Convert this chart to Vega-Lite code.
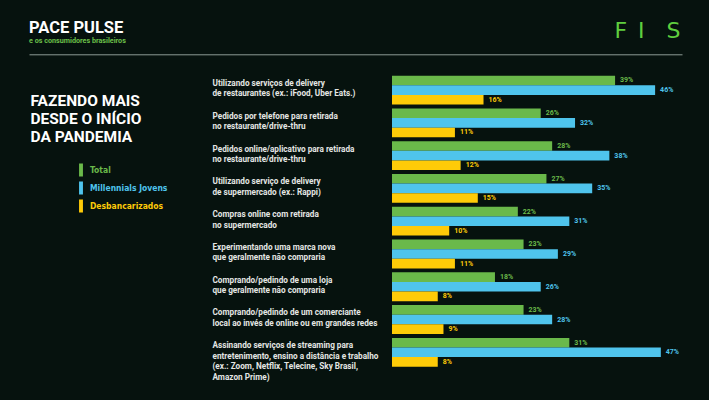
{
  "$schema": "https://vega.github.io/schema/vega-lite/v6.json",
  "autosize": "none",
  "width": 653,
  "height": 295,
  "padding": {"left": 29, "top": 73.7, "right": 27, "bottom": 31.3},
  "background": "#06120e",
  "config": {
    "view": {"stroke": null},
    "font": "Roboto, Liberation Sans, sans-serif"
  },
  "title": {
    "text": "PACE PULSE",
    "subtitle": "e os consumidores brasileiros",
    "anchor": "start",
    "frame": "group",
    "offset": 0,
    "dy": 24,
    "fontSize": 16.5,
    "fontWeight": "bold",
    "color": "#ffffff",
    "subtitleFontSize": 7.2,
    "subtitleFontWeight": "bold",
    "subtitleColor": "#6cc04a",
    "subtitlePadding": 0.5
  },
  "datasets": {
    "pesquisa": [
      {"categoria": "Utilizando serviços de delivery\nde restaurantes (ex.: iFood, Uber Eats.)", "serie": "Total", "valor": 39},
      {"categoria": "Utilizando serviços de delivery\nde restaurantes (ex.: iFood, Uber Eats.)", "serie": "Millennials Jovens", "valor": 46},
      {"categoria": "Utilizando serviços de delivery\nde restaurantes (ex.: iFood, Uber Eats.)", "serie": "Desbancarizados", "valor": 16},
      {"categoria": "Pedidos por telefone para retirada\nno restaurante/drive-thru", "serie": "Total", "valor": 26},
      {"categoria": "Pedidos por telefone para retirada\nno restaurante/drive-thru", "serie": "Millennials Jovens", "valor": 32},
      {"categoria": "Pedidos por telefone para retirada\nno restaurante/drive-thru", "serie": "Desbancarizados", "valor": 11},
      {"categoria": "Pedidos online/aplicativo para retirada\nno restaurante/drive-thru", "serie": "Total", "valor": 28},
      {"categoria": "Pedidos online/aplicativo para retirada\nno restaurante/drive-thru", "serie": "Millennials Jovens", "valor": 38},
      {"categoria": "Pedidos online/aplicativo para retirada\nno restaurante/drive-thru", "serie": "Desbancarizados", "valor": 12},
      {"categoria": "Utilizando serviço de delivery\nde supermercado (ex.: Rappi)", "serie": "Total", "valor": 27},
      {"categoria": "Utilizando serviço de delivery\nde supermercado (ex.: Rappi)", "serie": "Millennials Jovens", "valor": 35},
      {"categoria": "Utilizando serviço de delivery\nde supermercado (ex.: Rappi)", "serie": "Desbancarizados", "valor": 15},
      {"categoria": "Compras online com retirada\nno supermercado", "serie": "Total", "valor": 22},
      {"categoria": "Compras online com retirada\nno supermercado", "serie": "Millennials Jovens", "valor": 31},
      {"categoria": "Compras online com retirada\nno supermercado", "serie": "Desbancarizados", "valor": 10},
      {"categoria": "Experimentando uma marca nova\nque geralmente não compraria", "serie": "Total", "valor": 23},
      {"categoria": "Experimentando uma marca nova\nque geralmente não compraria", "serie": "Millennials Jovens", "valor": 29},
      {"categoria": "Experimentando uma marca nova\nque geralmente não compraria", "serie": "Desbancarizados", "valor": 11},
      {"categoria": "Comprando/pedindo de uma loja\nque geralmente não compraria", "serie": "Total", "valor": 18},
      {"categoria": "Comprando/pedindo de uma loja\nque geralmente não compraria", "serie": "Millennials Jovens", "valor": 26},
      {"categoria": "Comprando/pedindo de uma loja\nque geralmente não compraria", "serie": "Desbancarizados", "valor": 8},
      {"categoria": "Comprando/pedindo de um comerciante\nlocal ao invés de online ou em grandes redes", "serie": "Total", "valor": 23},
      {"categoria": "Comprando/pedindo de um comerciante\nlocal ao invés de online ou em grandes redes", "serie": "Millennials Jovens", "valor": 28},
      {"categoria": "Comprando/pedindo de um comerciante\nlocal ao invés de online ou em grandes redes", "serie": "Desbancarizados", "valor": 9},
      {"categoria": "Assinando serviços de streaming para\nentretenimento, ensino a distância e trabalho\n(ex.: Zoom, Netflix, Telecine, Sky Brasil,\nAmazon Prime)", "serie": "Total", "valor": 31},
      {"categoria": "Assinando serviços de streaming para\nentretenimento, ensino a distância e trabalho\n(ex.: Zoom, Netflix, Telecine, Sky Brasil,\nAmazon Prime)", "serie": "Millennials Jovens", "valor": 47},
      {"categoria": "Assinando serviços de streaming para\nentretenimento, ensino a distância e trabalho\n(ex.: Zoom, Netflix, Telecine, Sky Brasil,\nAmazon Prime)", "serie": "Desbancarizados", "valor": 8}
    ]
  },
  "data": {"name": "pesquisa"},
  "encoding": {
    "y": {
      "field": "categoria",
      "type": "nominal",
      "sort": null,
      "scale": {"paddingInner": 0.12, "paddingOuter": 0.06},
      "axis": {
        "orient": "left",
        "domain": false,
        "ticks": false,
        "tickSize": 0,
        "grid": false,
        "labelPadding": -183,
        "labelAlign": "left",
        "labelBaseline": "top",
        "labelOffset": -10.1,
        "labelFontSize": 8.2,
        "labelFontWeight": "bold",
        "labelColor": "#e4e6e4",
        "labelLineHeight": 10.5,
        "labelLimit": 400,
        "labelExpr": "split(datum.value, '\\n')",
        "title": ["FAZENDO MAIS", "DESDE O INÍCIO", "DA PANDEMIA"],
        "titleX": 1,
        "titleY": 19.5,
        "titleAngle": 0,
        "titleAlign": "left",
        "titleBaseline": "top",
        "titleFontSize": 15.5,
        "titleFontWeight": "bold",
        "titleColor": "#ffffff",
        "titleLineHeight": 18.3
      }
    },
    "yOffset": {
      "field": "serie",
      "type": "nominal",
      "sort": ["Total", "Millennials Jovens", "Desbancarizados"],
      "scale": {"paddingInner": 0, "paddingOuter": 0}
    },
    "color": {
      "field": "serie",
      "type": "nominal",
      "scale": {
        "domain": ["Total", "Millennials Jovens", "Desbancarizados"],
        "range": ["#6ab94a", "#4fc4ec", "#fecb08"]
      },
      "legend": {
        "orient": "none",
        "legendX": 45.5,
        "legendY": 89.8,
        "title": null,
        "symbolType": "M-0.3,-1h0.6v2h-0.6z",
        "symbolSize": 169,
        "symbolStrokeWidth": 0,
        "labelOffset": 2.5,
        "rowPadding": 5,
        "labelFont": "DejaVu Sans Condensed, Liberation Sans, sans-serif",
        "labelFontSize": 8.5,
        "labelFontWeight": "bold",
        "labelColor": {"expr": "datum.label == 'Total' ? '#6ab94a' : datum.label == 'Millennials Jovens' ? '#4fc4ec' : '#fecb08'"}
      }
    }
  },
  "layer": [
    {
      "mark": {"type": "bar", "cornerRadius": 0},
      "encoding": {
        "x": {
          "field": "valor",
          "type": "quantitative",
          "scale": {"domain": [0, 50], "range": [363, 649], "nice": false, "zero": true},
          "axis": null
        }
      }
    },
    {
      "transform": [{"calculate": "datum.valor + '%'", "as": "rotulo"}],
      "mark": {"type": "text", "align": "left", "baseline": "middle", "dx": 5, "fontSize": 7, "fontWeight": "bold"},
      "encoding": {
        "x": {
          "field": "valor",
          "type": "quantitative",
          "scale": {"domain": [0, 50], "range": [363, 649], "nice": false, "zero": true},
          "axis": null
        },
        "text": {"field": "rotulo"}
      }
    },
    {
      "mark": {"type": "tick", "opacity": 0},
      "encoding": {
        "x": {
          "field": "valor",
          "type": "quantitative",
          "scale": {"domain": [0, 50], "nice": false},
          "axis": {
            "orient": "top",
            "offset": 19.4,
            "domain": true,
            "domainColor": "#8c9a94",
            "domainWidth": 1,
            "ticks": false,
            "labels": false,
            "grid": false,
            "title": "F\u2002I\u2003S",
            "titleX": 651,
            "titleY": -16.5,
            "titleAlign": "right",
            "titleBaseline": "alphabetic",
            "titleAngle": 0,
            "titleFont": "DejaVu Sans",
            "titleFontSize": 22,
            "titleFontWeight": "normal",
            "titleColor": "#5fce3e"
          }
        }
      }
    }
  ],
  "resolve": {"scale": {"x": "independent"}, "axis": {"x": "independent"}}
}
